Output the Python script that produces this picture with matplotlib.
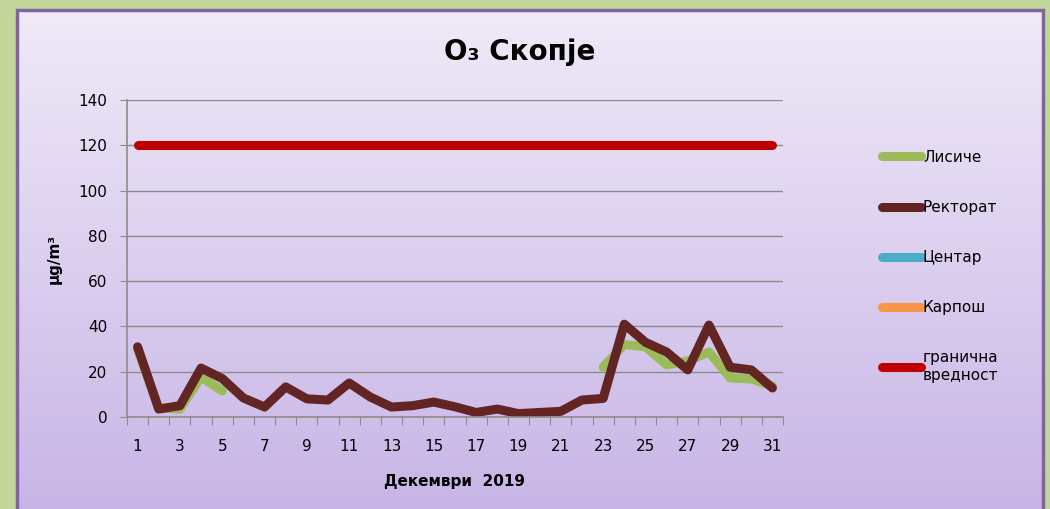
import numpy as np
import matplotlib
matplotlib.use("Agg")
import matplotlib.pyplot as plt
from matplotlib.patches import Rectangle

# Денови во декември 2019
denovi = np.arange(1, 32)

# Концентрации на O3 (µg/m3), прочитани од графикот
lisice = [30, 4, 3.5, 17.7, 11.5] + [np.nan] * 17 + [22, 32, 31, 23, 24.7, 28.7, 17.2, 16.8, 13.7]
rektorat = [31, 3.5, 5, 21.6, 17, 8.4, 4.4, 13.3, 8, 7.5, 15, 8.8, 4.4, 5, 6.6,
            4.5, 2, 3.5, 1.5, 2, 2.5, 7.5, 8.2, 41, 33, 28.7, 20.8, 40.6, 22, 20.8, 12.8]
centar = [np.nan] * 31
karpos = [np.nan] * 31
granicna = [120] * 31

serii = [
    ("Лисиче", lisice, "#9bbb59"),
    ("Ректорат", rektorat, "#632523"),
    ("Центар", centar, "#4bacc6"),
    ("Карпош", karpos, "#f79646"),
    ("гранична\nвредност", granicna, "#c00000"),
]

W, H = 1050, 509
fig = plt.figure(figsize=(W / 100, H / 100), dpi=100, facecolor="#c4d79b")

# позадина со преливање (долниот раб излегува надвор од сликата)
bg = fig.add_axes([17 / W, -0.02, (1043 - 17) / W, (H - 10) / H + 0.02], zorder=-1)
top = np.array([240, 234, 248]) / 255
bot = np.array([199, 180, 230]) / 255
t = np.linspace(0, 1, 256)[:, None]
grad = top * (1 - t) + bot * t
bg.imshow(grad[:, None, :], aspect="auto", extent=[0, 1, 0, 1])
bg.add_patch(Rectangle((0, 0), 1, 1, transform=bg.transAxes, fill=False,
                       edgecolor="#8064a2", lw=2.5, clip_on=False))
bg.set_axis_off()

ax = fig.add_axes([127 / W, (H - 417) / H, (783 - 127) / W, (417 - 100) / H])
ax.set_facecolor("none")

for ime, vred, boja in serii:
    ax.plot(denovi, vred, color=boja, lw=6.5, solid_capstyle="round",
            solid_joinstyle="round", label=ime)

ax.set_xlim(0.5, 31.5)
ax.set_ylim(0, 140)
ax.set_yticks(np.arange(0, 141, 20))
ax.yaxis.grid(True, color="#8c8c8c", lw=1)
ax.set_axisbelow(True)

ax.set_xticks(np.arange(0.5, 32, 1))
ax.set_xticklabels([])
ax.set_xticks(np.arange(1, 32, 2), minor=True)
ax.set_xticklabels([str(d) for d in range(1, 32, 2)], minor=True)
ax.tick_params(axis="x", which="major", length=6, color="#8c8c8c", direction="out")
ax.tick_params(axis="x", which="minor", length=0, pad=16, labelsize=11)
ax.tick_params(axis="y", length=5, color="#8c8c8c", labelsize=11, pad=9)

for s in ["top", "right"]:
    ax.spines[s].set_visible(False)
for s in ["left", "bottom"]:
    ax.spines[s].set_color("#8c8c8c")
    ax.spines[s].set_linewidth(1.2)

ax.set_xlabel("Декември  2019", fontsize=11, fontweight="bold", labelpad=14)
ax.set_ylabel("µg/m³", fontsize=11, fontweight="bold", labelpad=12)

fig.text(520 / W, 1 - 52 / H, "O₃ Скопје", fontsize=20, fontweight="bold",
         ha="center", va="center")

fig.legend(loc="upper left", bbox_to_anchor=(868 / W, 1 - 136 / H), frameon=False,
           fontsize=11, handlelength=2.6, handletextpad=0.1, labelspacing=2.3)

fig.savefig("out.png", dpi=100, facecolor=fig.get_facecolor())
